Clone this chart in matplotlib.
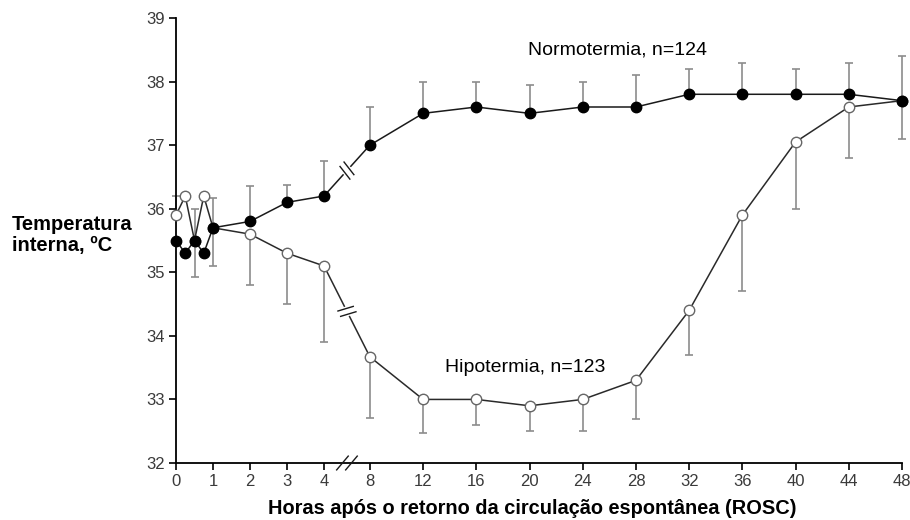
import numpy as np
import matplotlib.pyplot as plt
from matplotlib.transforms import IdentityTransform

plt.rcParams['font.family'] = ['Liberation Sans', 'DejaVu Sans']

# Dados
horas = [0, 0.25, 0.5, 0.75, 1, 2, 3, 4, 8, 12, 16, 20, 24, 28, 32, 36, 40, 44, 48]
hipo = [35.9, 36.2, 35.5, 36.2, 35.7, 35.6, 35.3, 35.1, 33.67, 33.0, 33.0, 32.9,
        33.0, 33.3, 34.4, 35.9, 37.05, 37.6, 37.7]
hipo_err_baixo = [0, 0, 0.57, 0, 0.6, 0.8, 0.8, 1.2, 0.97, 0.53, 0.4, 0.4,
                  0.5, 0.6, 0.7, 1.2, 1.05, 0.8, 0.6]
hipo_err_cima = [0.3, 0, 0.5, 0, 0.47, 0, 0, 0, 0, 0, 0, 0, 0, 0, 0, 0, 0, 0, 0]
normo = [35.5, 35.3, 35.5, 35.3, 35.7, 35.8, 36.1, 36.2, 37.0, 37.5, 37.6, 37.5,
         37.6, 37.6, 37.8, 37.8, 37.8, 37.8, 37.7]
normo_err_cima = [0, 0, 0, 0, 0, 0.55, 0.27, 0.55, 0.6, 0.5, 0.4, 0.45,
                  0.4, 0.5, 0.4, 0.5, 0.4, 0.5, 0.7]
normo_err_baixo = [0] * len(horas)

xticks = [0, 1, 2, 3, 4, 8, 12, 16, 20, 24, 28, 32, 36, 40, 44, 48]
yticks = [32, 33, 34, 35, 36, 37, 38, 39]

# Eixo x não linear: 0-4 h expandido, depois passos de 4 h
h_pts = [0, 4, 8, 48]
p_pts = [0, 4, 5.24, 19.62]


def fwd(h):
    return np.interp(h, h_pts, p_pts)


def inv(p):
    return np.interp(p, p_pts, h_pts)


W, H = 910, 520
fig = plt.figure(figsize=(W / 100, H / 100), dpi=100)
ax = fig.add_axes([176 / W, 57 / H, 726 / W, 445 / H])
ax.set_xscale('function', functions=(fwd, inv))
ax.set_xlim(0, 48)
ax.set_ylim(32, 39)

cinza = '#8c8c8c'
ax.errorbar(horas, hipo, yerr=[hipo_err_baixo, hipo_err_cima], fmt='none',
            ecolor=cinza, elinewidth=1.2, capsize=3.2, capthick=1.2, zorder=1, clip_on=False)
ax.errorbar(horas, normo, yerr=[normo_err_baixo, normo_err_cima], fmt='none',
            ecolor=cinza, elinewidth=1.2, capsize=3.2, capthick=1.2, zorder=1, clip_on=False)

ax.plot(horas, hipo, '-', color='#2a2a2a', lw=1.1, marker='o', ms=7.5,
        mfc='white', mec='#666666', mew=1, zorder=3, clip_on=False)
ax.plot(horas, normo, '-', color='#1a1a1a', lw=1.1, marker='o', ms=7.5,
        mfc='black', mec='black', zorder=4, clip_on=False)

ax.spines['top'].set_visible(False)
ax.spines['right'].set_visible(False)
ax.spines['left'].set_linewidth(1.3)
ax.spines['bottom'].set_linewidth(1.3)
ax.set_xticks(xticks)
ax.set_xticklabels([str(t) for t in xticks])
ax.set_yticks(yticks)
ax.set_yticklabels([str(t) for t in yticks])
ax.xaxis.set_minor_locator(plt.NullLocator())
ax.tick_params(direction='out', length=5, width=1.2, labelsize=12,
               labelcolor='#3a3a3a', pad=3)


# Marcas de quebra (//)
def quebra(x_px, y_px, ang, comp=8, sep=3.5, gap=True, dir_linha=None):
    t = IdentityTransform()
    a = np.radians(ang)
    dx, dy = np.cos(a) * comp, np.sin(a) * comp
    if dir_linha is None:
        ux, uy = 1, 0
    else:
        ux, uy = dir_linha
    if gap:
        ax.plot([x_px - ux * sep, x_px + ux * sep], [y_px - uy * sep, y_px + uy * sep],
                color='white', lw=3, transform=t, zorder=5, clip_on=False)
    for s in (-1, 1):
        cx, cy = x_px + s * ux * sep, y_px + s * uy * sep
        ax.plot([cx - dx, cx + dx], [cy - dy, cy + dy], color='#1a1a1a', lw=1,
                transform=t, zorder=6, clip_on=False)


fig.canvas.draw()
for serie in (normo, hipo):
    p4 = ax.transData.transform((4, serie[7]))
    p8 = ax.transData.transform((8, serie[8]))
    m = (p4 + p8) / 2
    d = (p8 - p4) / np.hypot(*(p8 - p4))
    ang = np.degrees(np.arctan2(d[1], d[0])) + 80
    quebra(m[0], m[1], ang, comp=8, sep=3, dir_linha=d)

xb = ax.transData.transform((6, 32))
quebra(xb[0], xb[1], 50, comp=9, sep=4.5, gap=False)

fig.text(528 / W, 1 - 50 / H, 'Normotermia, n=124', fontsize=14, va='center', ha='left')
fig.text(445 / W, 1 - 368 / H, 'Hipotermia, n=123', fontsize=14, va='center', ha='left')
fig.text(12 / W, 1 - 235 / H, 'Temperatura\ninterna, ºC', fontsize=14.5,
         fontweight='bold', va='center', ha='left', linespacing=1.1)
fig.text(532 / W, 1 - 508 / H, 'Horas após o retorno da circulação espontânea (ROSC)',
         fontsize=14.4, fontweight='bold', va='center', ha='center')

fig.savefig('out.png', dpi=100)
